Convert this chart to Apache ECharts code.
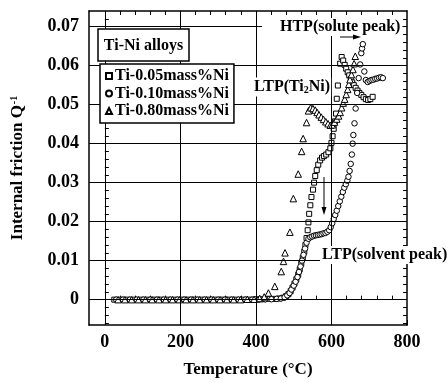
<!DOCTYPE html>
<html>
<head>
<meta charset="utf-8">
<script src="https://cdn.jsdelivr.net/npm/echarts@6.0.0/dist/echarts.min.js"></script>
<style>html,body{margin:0;padding:0;background:#fff;}#c{width:448px;height:383px;}</style>
</head>
<body>
<div id="c"></div>
<script>
const seriesNames = ['Ti-0.05mass%Ni', 'Ti-0.10mass%Ni', 'Ti-0.80mass%Ni'];
const xTicks = [0, 200, 400, 600, 800];
const yTicks = [0, 0.01, 0.02, 0.03, 0.04, 0.05, 0.06, 0.07];
const xMinor = [40,80,120,160,240,280,320,360,440,480,520,560,640,680,720,760];
const yMinor = [-0.006,-0.004,-0.002,0.002,0.004,0.006,0.008,0.012,0.014,0.016,0.018,0.022,0.024,0.026,0.028,0.032,0.034,0.036,0.038,0.042,0.044,0.046,0.048,0.052,0.054,0.056,0.058,0.062,0.064,0.066,0.068,0.072];

const ti005 = [[25,0],[43,0],[61,0],[79,0],[97,0],[115,0],[133,0],[151,0],[169,0],[187,0],[205,0],[223,0],[241,0],[259,0],[277,0],[295,0],[313,0],[331,0],[349,0],[367,0],[385,0],[403,0.0001],[420,0.0001],[436,0.0002],[450,0.0002],[462,0.0003],[472,0.0005],
[480,0.0009],[486,0.0014],[492,0.0022],[497,0.0031],[502,0.0041],[507,0.0052],[512,0.0064],[516,0.0078],[520,0.0092],[524,0.0107],[528,0.0123],[531,0.0140],[534,0.0158],[537,0.0178],[539,0.0198],[541,0.0220],[544,0.0242],[547,0.0263],[551,0.0282],[554,0.0300],[557,0.0317],[561,0.0332],[565,0.0346],[570,0.0357],[575,0.0364],[580,0.0368],[586,0.0372],[592,0.0378],[597,0.0388],[600,0.0402],[603,0.0419],[606,0.0438],[609,0.0457],[612,0.0477],[614,0.0515],[617,0.0549],[623,0.0605],[627,0.0622],[631,0.0613],[635,0.0602],[639,0.0592],[643,0.0583],[647,0.0575],[651,0.0566],[655,0.0557],[659,0.0550],[664,0.0543],[669,0.0536],[674,0.0530],[679,0.0525],[685,0.0519],[691,0.0514],[697,0.0512],[703,0.0514],[709,0.0520]];

const ti010 = [[30,0],[48,0],[66,0],[84,0],[102,0],[120,0],[138,0],[156,0],[174,0],[192,0],[210,0],[228,0],[246,0],[264,0],[282,0],[300,0],[318,0],[336,0],[354,0],[372,0],[390,0],[408,0],[425,0.0001],[441,0.0001],[455,0.0002],[466,0.0003],[476,0.0006],
[483,0.0011],[489,0.0017],[494,0.0026],[500,0.0036],[505,0.0046],[510,0.0058],[514,0.0071],[518,0.0085],[522,0.0100],[526,0.0115],[530,0.0131],[534,0.0146],[539,0.0156],[544,0.0160],[549,0.0162],[554,0.0164],[559,0.0165],[564,0.0166],[569,0.0167],[574,0.0168],[579,0.0170],[584,0.0171],[589,0.0174],[594,0.0178],[598,0.0186],[602,0.0196],[606,0.0207],[610,0.0217],[614,0.0228],[618,0.0240],[622,0.0252],[626,0.0264],[630,0.0276],[634,0.0287],[638,0.0296],[642,0.0305],[645,0.0315],[648,0.0330],[651,0.0348],[654,0.0372],[656,0.0400],[658,0.0422],[661,0.0452],[664,0.0490],[668,0.0530],[672,0.0568],[676,0.0603],[679,0.0632],[681,0.0644],[683,0.0655],[687,0.0585],[691,0.0563],[696,0.0558],[701,0.0561],[706,0.0563],[711,0.0564],[716,0.0566],[721,0.0567],[726,0.0569],[731,0.0570],[736,0.0568]];

const ti080 = [[35,0],[53,0],[71,0],[89,0],[107,0],[125,0],[143,0],[161,0],[179,0],[197,0],[215,0],[233,0],[251,0],[269,0],[287,0],[305,0],[323,0],[341,0],[359,0],[377,0.0001],[395,0.0001],[410,0.0003],[422,0.0007],
[433,0.0017],[450,0.0034],[467,0.0072],[473,0.0098],[477,0.0120],[490,0.0173],[499,0.0259],[512,0.0322],[521,0.0380],[525,0.0413],[534,0.0454],[539,0.0484],[545,0.0492],[551,0.0490],[557,0.0486],[562,0.0480],[567,0.0474],[573,0.0468],[579,0.0462],[585,0.0456],[591,0.0451],[597,0.0447],[602,0.0448],[608,0.0455],[614,0.0463],[619,0.0471],[623,0.0480],[627,0.0492],[631,0.0504],[635,0.0514],[639,0.0526],[643,0.0539],[646,0.0552],[649,0.0564],[653,0.0577],[657,0.0590],[660,0.0605],[663,0.0624]];

const FONT = '"Liberation Serif", "Times New Roman", serif';
const X_MIN = -42, X_MAX = 800, Y_MIN = -0.0065, Y_MAX = 0.074;

const chart = echarts.init(document.getElementById('c'), null, {renderer: 'canvas'});

function xAxisDef(pos, opts) {
  return Object.assign({
    type: 'value', position: pos, min: X_MIN, max: X_MAX,
    axisLine: {show: false}, splitLine: {show: false},
    axisTick: {show: false}, axisLabel: {show: false}
  }, opts);
}
function yAxisDef(pos, opts) {
  return Object.assign({
    type: 'value', position: pos, min: Y_MIN, max: Y_MAX,
    axisLine: {show: false}, splitLine: {show: false},
    axisTick: {show: false}, axisLabel: {show: false}
  }, opts);
}
const frameLine = {show: true, onZero: false, lineStyle: {color: '#000', width: 1.5}};
const minorTick = (vals) => ({show: true, inside: true, length: 4, customValues: vals, lineStyle: {color: '#000', width: 1}});

const mk = (name, symbol, data, size) => ({
  name: name, type: 'scatter', data: data, symbol: symbol, symbolSize: size,
  xAxisIndex: 0, yAxisIndex: 0,
  itemStyle: {color: '#fff', borderColor: '#000', borderWidth: 1, opacity: 1},
  z: 3, silent: true
});

const gridLines = [];
xTicks.slice(0, 4).forEach(v => gridLines.push({xAxis: v}));
yTicks.forEach(v => gridLines.push({yAxis: v}));

const txt = (x, y, text, extra) => ({
  type: 'text', x: x, y: y, z: 50,
  style: Object.assign({text: text, fontSize: 16, fontWeight: 'bold', fontFamily: FONT, fill: '#000',
    align: 'left', verticalAlign: 'middle'}, extra || {})
});

chart.setOption({
  animation: false,
  backgroundColor: '#fff',
  grid: {left: 89, top: 11, width: 318, height: 316, containLabel: false},
  xAxis: [
    xAxisDef('bottom', {
      axisLine: frameLine,
      axisTick: {show: true, inside: true, length: 5, customValues: xTicks, lineStyle: {color: '#000'}},
      axisLabel: {show: true, customValues: xTicks, margin: 8, fontSize: 18, fontWeight: 'bold', fontFamily: FONT, color: '#000'},
      name: 'Temperature (°C)', nameLocation: 'middle', nameGap: 36,
      nameTextStyle: {fontSize: 17, fontWeight: 'bold', fontFamily: FONT, color: '#000'}
    }),
    xAxisDef('bottom', {axisTick: minorTick(xMinor)}),
    xAxisDef('top', {axisLine: frameLine, axisTick: minorTick(xMinor)})
  ],
  yAxis: [
    yAxisDef('left', {
      axisLine: frameLine,
      axisTick: {show: true, inside: true, length: 5, customValues: yTicks, lineStyle: {color: '#000'}},
      axisLabel: {show: true, customValues: yTicks, margin: 10, fontSize: 18, fontWeight: 'bold', fontFamily: FONT, color: '#000',
        formatter: v => (Math.abs(v) < 1e-9 ? '0' : v.toFixed(2))},
      name: 'Internal friction Q{sup|-1}', nameLocation: 'middle', nameGap: 62,
      nameTextStyle: {fontSize: 17, fontWeight: 'bold', fontFamily: FONT, color: '#000',
        rich: {sup: {fontSize: 10, fontWeight: 'bold', fontFamily: FONT, color: '#000', verticalAlign: 'top', padding: [0, 0, 8, 1]}}}
    }),
    yAxisDef('left', {axisTick: minorTick(yMinor)}),
    yAxisDef('right', {axisLine: frameLine, axisTick: minorTick(yMinor)})
  ],
  legend: {
    data: seriesNames, orient: 'vertical', left: 100, top: 64,
    padding: [4, 5, 4, 5], itemGap: 1.5, itemWidth: 6, itemHeight: 6,
    backgroundColor: '#fff', borderColor: '#000', borderWidth: 1.5, borderRadius: 0,
    textStyle: {fontSize: 16, fontWeight: 'bold', fontFamily: FONT, color: '#000', padding: [0, 0, 0, -2]},
    selectedMode: false, z: 20
  },
  series: [
    {
      name: 'gridlines', type: 'scatter', data: [], silent: true, z: 1,
      markLine: {silent: true, symbol: 'none', animation: false, label: {show: false},
        lineStyle: {color: '#000', width: 1, type: 'solid'}, data: gridLines}
    },
    mk(seriesNames[0], 'rect', ti005, 5),
    mk(seriesNames[1], 'circle', ti010, 5.5),
    mk(seriesNames[2], 'triangle', ti080, 6.5)
  ],
  graphic: [
    {type: 'rect', z: 40, shape: {x: 98, y: 29, width: 91, height: 32},
      style: {fill: '#fff', stroke: '#000', lineWidth: 1.5}},
    txt(143.5, 45.5, 'Ti-Ni alloys', {align: 'center'}),
    txt(262, 27, 'HTP(solute peak)', {backgroundColor: '#fff', padding: [1, 2, 1, 18]}),
    txt(253, 87, 'LTP(Ti{s|2}Ni)', {backgroundColor: '#fff', padding: [1, 1, 1, 1],
      rich: {s: {fontSize: 10, fontWeight: 'bold', fontFamily: FONT, fill: '#000', verticalAlign: 'bottom', padding: [7, 0, 0, 0]}}}),
    txt(320, 255, 'LTP(solvent peak)', {backgroundColor: '#fff', padding: [1, 2, 1, 2]}),
    {type: 'line', z: 50, shape: {x1: 340, y1: 37, x2: 355, y2: 37}, style: {stroke: '#000', lineWidth: 1}},
    {type: 'polygon', z: 50, shape: {points: [[361, 37], [353, 34.5], [353, 39.5]]}, style: {fill: '#000'}},
    {type: 'line', z: 50, shape: {x1: 324, y1: 177, x2: 324, y2: 208}, style: {stroke: '#000', lineWidth: 1}},
    {type: 'polygon', z: 50, shape: {points: [[324, 215], [321.5, 207], [326.5, 207]]}, style: {fill: '#000'}}
  ]
});
</script>
</body>
</html>
